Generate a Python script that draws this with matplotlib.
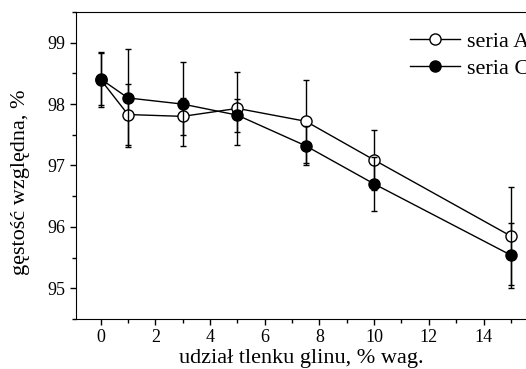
"""Relative density vs. alumina content for series A and C."""

from matplotlib import pyplot
from matplotlib.ticker import MultipleLocator

# Data.
udzial = [0, 1, 3, 5, 7.5, 10, 15]
gestosc_a = [98.40, 97.83, 97.80, 97.93, 97.72, 97.09, 95.85]
blad_a = [0.45, 0.50, 0.30, 0.60, 0.68, 0.49, 0.80]
gestosc_c = [98.41, 98.10, 98.00, 97.82, 97.32, 96.70, 95.54]
blad_c = [0.42, 0.80, 0.68, 0.27, 0.32, 0.44, 0.53]

pyplot.rc('font', family='Liberation Serif', size=13)
fig = pyplot.figure(figsize=(5.26, 3.69), dpi=100)
ax = fig.add_axes([0.1445, 0.1355, 0.858, 0.832])

style = dict(color='black', linewidth=1.0, markersize=8, capsize=2.5,
             elinewidth=1.0, capthick=1.0, markeredgewidth=1.0)
ax.errorbar(udzial, gestosc_a, yerr=blad_a, marker='o',
            markerfacecolor='white', label='seria A', zorder=3, **style)
ax.errorbar(udzial, gestosc_c, yerr=blad_c, marker='o',
            markerfacecolor='black', label='seria C', zorder=4, **style)

ax.set_xlim(-0.9, 15.6)
ax.set_ylim(94.5, 99.5)
ax.xaxis.set_major_locator(MultipleLocator(2))
ax.xaxis.set_minor_locator(MultipleLocator(1))
ax.yaxis.set_major_locator(MultipleLocator(1))
ax.yaxis.set_minor_locator(MultipleLocator(0.5))
ax.tick_params(which='major', direction='out', length=4, width=1.0)
ax.tick_params(which='minor', direction='out', length=3, width=1.0)
ax.spines['right'].set_visible(False)

ax.set_xlabel('udział tlenku glinu, % wag.', fontsize=16, labelpad=2)
ax.set_ylabel('gęstość względna, %', fontsize=16, labelpad=13)
ax.yaxis.label.set_y(0.446)

handles, labels = ax.get_legend_handles_labels()
handles = [h[0] for h in handles]
ax.legend(handles, labels, loc='upper left', frameon=False, fontsize=16,
          bbox_to_anchor=(410 / 526, 1 - 31 / 369),
          bbox_transform=fig.transFigure, borderaxespad=0.0, borderpad=0.0,
          handlelength=2.25, handletextpad=0.3, labelspacing=0.3)

fig.savefig('out.png', dpi=100)
